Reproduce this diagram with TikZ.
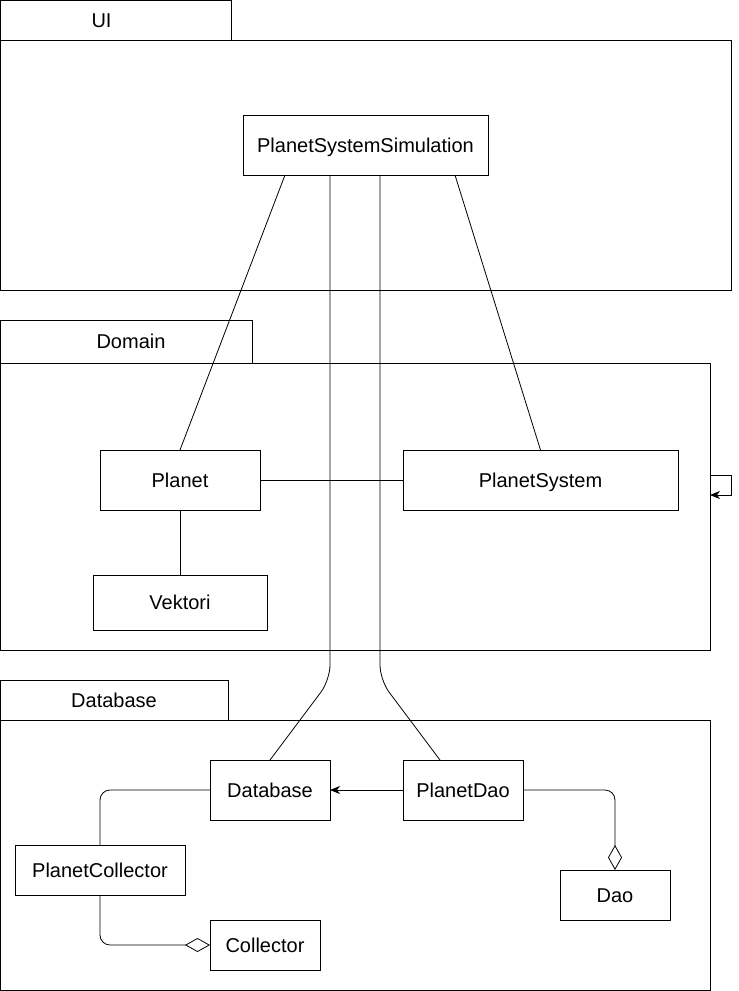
\documentclass[tikz,border=0pt]{standalone}
\usepackage{fontspec}
\setmainfont{Liberation Sans}
\usetikzlibrary{arrows.meta, positioning, calc}

\begin{document}
\begin{tikzpicture}[
  x=1pt, y=-1pt,
  font=\fontsize{20}{24}\selectfont,
  pkgtab/.style={draw, line width=1pt, inner sep=0pt, outer sep=0pt, text height=14.3pt, text depth=0pt},
  pkgbody/.style={draw, line width=1pt, inner sep=0pt, outer sep=0pt},
  classbox/.style={draw, line width=1pt, inner sep=0pt, outer sep=0pt, minimum height=60pt, text height=14.3pt, text depth=0pt},
  link/.style={line width=0.8pt},
  usearrow/.style={->, line width=0.8pt, >={Stealth[length=10pt, width=8pt, inset=3pt]}},
  aggr/.style={line width=0.8pt, rounded corners=10pt, -{Diamond[open, length=25pt, width=14pt]}}
]
\useasboundingbox (0,0) rectangle (739,991);

% UI package
\node[pkgtab, minimum width=231pt, minimum height=40pt] (uitab) at (115.5,20) {\hspace*{-28pt}UI};
\node[pkgbody, minimum width=731pt, minimum height=250pt] (uibody) at (365.5,165) {};
\node[classbox, minimum width=245pt] (pss) at (365.5,145) {PlanetSystemSimulation};

% Domain package
\node[pkgtab, minimum width=252pt, minimum height=43pt] (domtab) at (126,341.5) {\hspace*{10pt}Domain};
\node[pkgbody, minimum width=710pt, minimum height=287pt] (dombody) at (355,506.5) {};
\node[classbox, minimum width=160pt] (planet) at (180,480) {Planet};
\node[classbox, minimum width=275pt] (psys) at (540.5,480) {PlanetSystem};
\node[classbox, minimum width=174pt, minimum height=55pt] (vektori) at (180,602.5) {Vektori};

% Database package
\node[pkgtab, minimum width=228pt, minimum height=40pt] (dbtab) at (114,700) {Database};
\node[pkgbody, minimum width=710pt, minimum height=270pt] (dbbody) at (355,855) {};
\node[classbox, minimum width=120pt] (db) at (270,790) {Database};
\node[classbox, minimum width=120pt] (pdao) at (463,790) {PlanetDao};
\node[classbox, minimum width=170pt, minimum height=50pt] (pcol) at (100,870) {PlanetCollector};
\node[classbox, minimum width=110pt, minimum height=50pt] (coll) at (265,945) {Collector};
\node[classbox, minimum width=110pt, minimum height=50pt] (dao) at (615,895) {Dao};

% Links from the simulation
\draw[link] (pss.south -| 285,0) -- (planet.north);
\draw[link] (pss.south -| 455,0) -- (psys.north);
\draw[link, rounded corners=15pt] (pss.south -| 330,0) -- (330,680) -- (db.north);
\draw[link, rounded corners=15pt] (pss.south -| 380,0) -- (380,680) -- (pdao.north -| 440,0);

% Domain links
\draw[link] (planet.east) -- (psys.west);
\draw[link] (planet.south) -- (vektori.north);
\draw[usearrow] (dombody.east |- 0,475) -- ++(21,0) -- ++(0,20) -- (dombody.east |- 0,495);

% Database links
\draw[usearrow] (pdao.west) -- (db.east);
\draw[link, rounded corners=10pt] (db.west) -| (pcol.north);
\draw[aggr] (pcol.south) |- (coll.west);
\draw[aggr] (pdao.east) -| (dao.north);

\end{tikzpicture}
\end{document}
